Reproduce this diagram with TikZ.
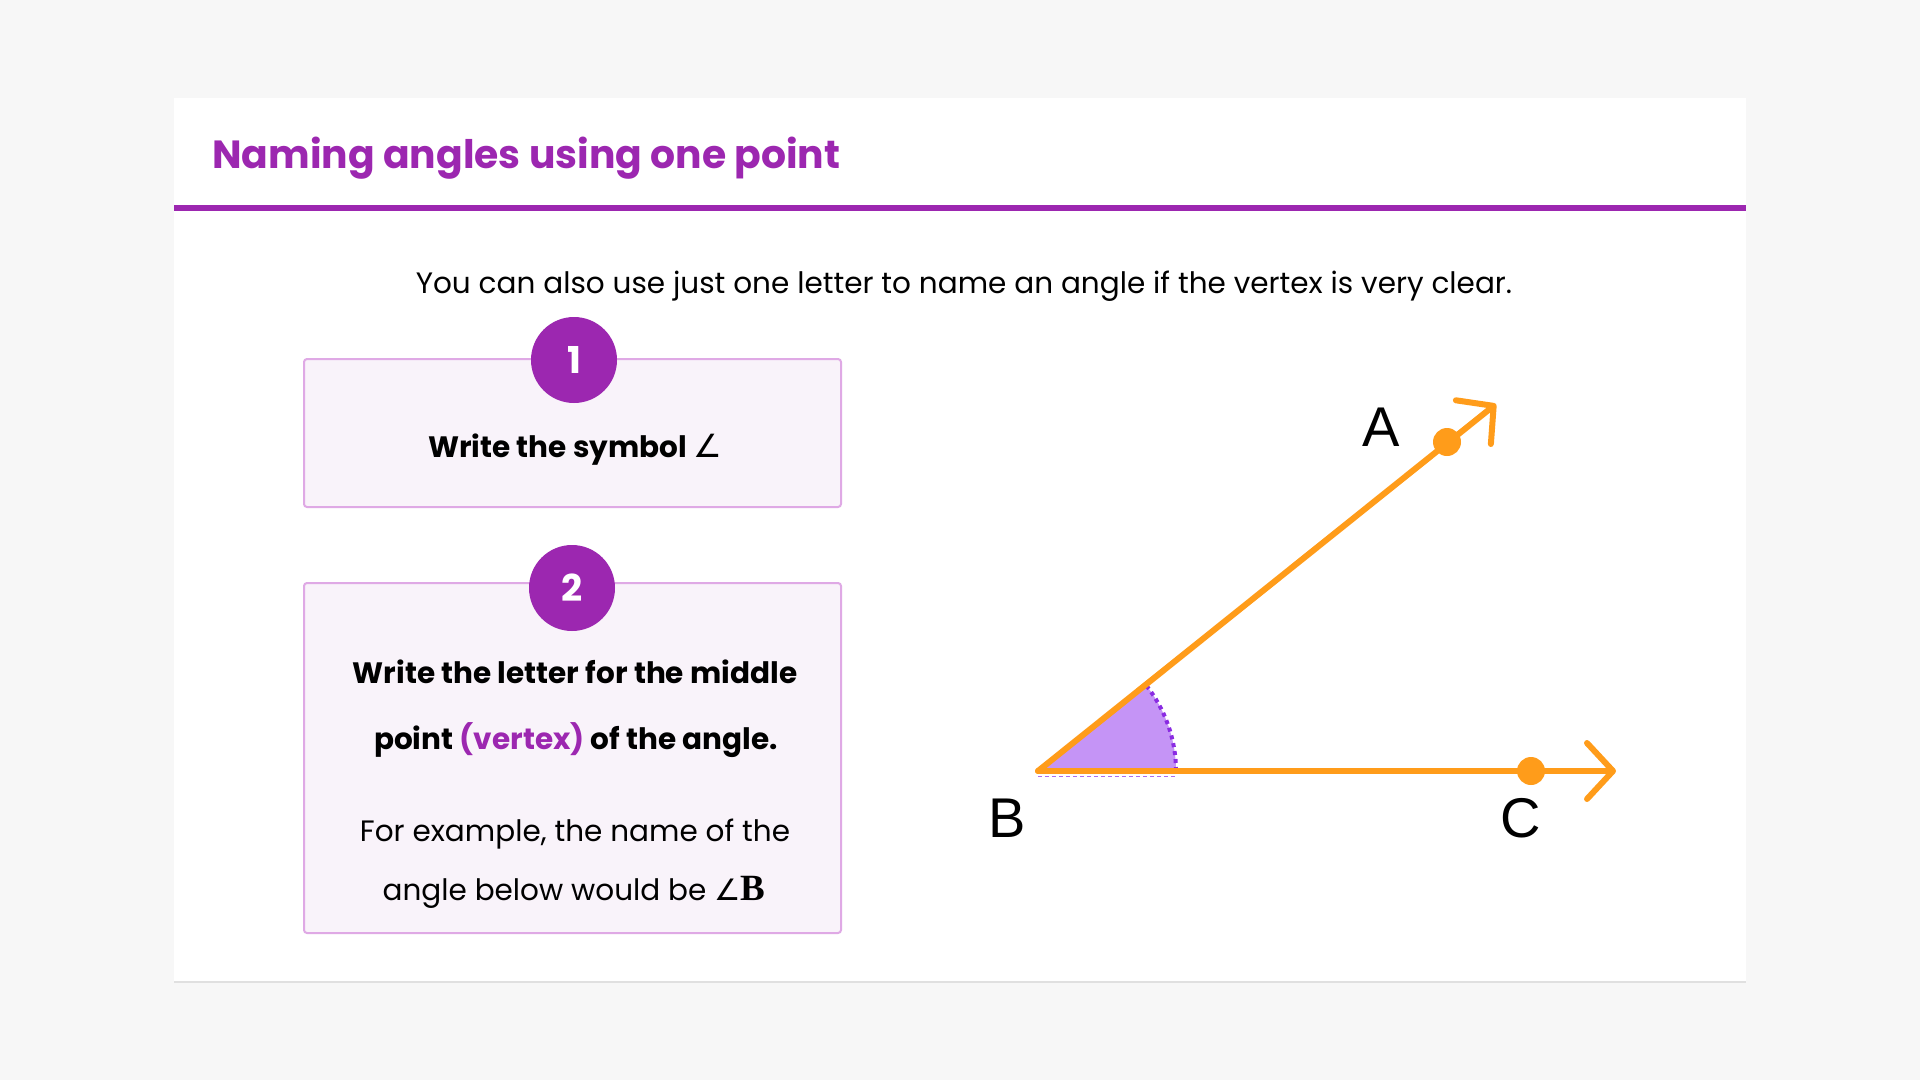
\documentclass[tikz,border=0pt]{standalone}
\usepackage{fontspec}
\setmainfont{Poppins}
\newfontfamily\labelfont{Liberation Sans}
\newfontfamily\symfont{DejaVu Sans}
\newfontfamily\serifbold{Liberation Serif}
\newcommand{\angsym}{{\symfont\char"2220}}
\usetikzlibrary{arrows.meta,calc}
\definecolor{bg}{HTML}{F7F7F7}
\definecolor{purp}{HTML}{9C27B0}
\definecolor{boxfill}{HTML}{F9F3FA}
\definecolor{boxline}{HTML}{DFA9E5}
\definecolor{orng}{HTML}{FF9C1A}
\definecolor{sector}{HTML}{C594F6}
\definecolor{arcc}{HTML}{8A2BE2}
\tikzset{
  stepbox/.style={draw=boxline, line width=2pt, fill=boxfill, rounded corners=3pt},
  numcirc/.style={circle, fill=purp, text=white, minimum size=86pt, inner sep=0pt, font=\fontsize{37}{44}\selectfont\bfseries},
  boldtxt/.style={anchor=base, inner sep=0pt, font=\fontsize{29.5}{36}\selectfont\bfseries},
  regtxt/.style={anchor=base, inner sep=0pt, font=\fontsize{29.5}{36}\selectfont},
  ray/.style={draw=orng, line width=6pt, line cap=round, -{Straight Barb[length=26pt,width=56pt,round]}},
  ptlabel/.style={inner sep=0pt, font=\fontsize{56}{60}\selectfont\labelfont},
}
\begin{document}
\begin{tikzpicture}[x=1pt,y=-1pt]
\fill[bg] (0,0) rectangle (1920,1080);
\path[use as bounding box] (0,0) rectangle (1920,1080);
% card
\fill[black!12] (174,100) rectangle (1746,983);
\fill[white] (174,98) rectangle (1746,981);
\node[anchor=base west, inner sep=0pt, text=purp, font=\fontsize{39.3}{46}\selectfont\bfseries] (title) at (212,168.5) {Naming angles using one point};
\fill[purp] (174,204.5) rectangle (1746,210.5);
\node[regtxt] (intro) at (964,293) {You can also use just one letter to name an angle if the vertex is very clear.};
% box 1
\draw[stepbox] (304,359) rectangle (841,507);
\node[numcirc] (n1) at (574,360) {1};
\node[boldtxt] (t1) at (575,457) {Write the symbol {\mdseries\fontsize{32}{36}\selectfont\angsym}};
% box 2
\draw[stepbox] (304,583) rectangle (841,933);
\node[numcirc] (n2) at (572,588) {2};
\node[boldtxt] (t2a) at (575,683) {Write the letter for the middle};
\node[boldtxt] (t2b) at (576,749) {point \textcolor{purp}{(vertex)} of the angle.};
\node[regtxt] (t2c) at (575,841) {For example, the name of the};
\node[regtxt] (t2d) at (574,900) {angle below would be \angsym{\fontsize{37}{38}\selectfont\serifbold\bfseries B}};
% diagram
\coordinate (B) at (1038,771);
\coordinate (Atip) at (1496,404);
\coordinate (Ctip) at (1616,771);
\coordinate (Adot) at (1447,442);
\coordinate (Cdot) at (1531,771);
\coordinate (S0) at (1176,771);
\fill[sector] (B) -- (S0) arc[start angle=0, end angle=-38.7, radius=138] -- cycle;
\draw[arcc, line width=4pt, dash pattern=on 4pt off 4pt] (S0) arc[start angle=0, end angle=-38.7, radius=138];
\draw[arcc!70, line width=1pt, dash pattern=on 4pt off 3pt] ($(B)+(0,5)$) -- ($(S0)+(0,5)$);
\path[ray] (B) -- (Atip);
\path[ray] (B) -- (Ctip);
\fill[orng] (Adot) circle (14);
\fill[orng] (Cdot) circle (14);
\node[ptlabel] (la) at (1381,427) {A};
\node[ptlabel] (lb) at (1007,818) {B};
\node[ptlabel] (lc) at (1521,818) {C};
\end{tikzpicture}
\end{document}
